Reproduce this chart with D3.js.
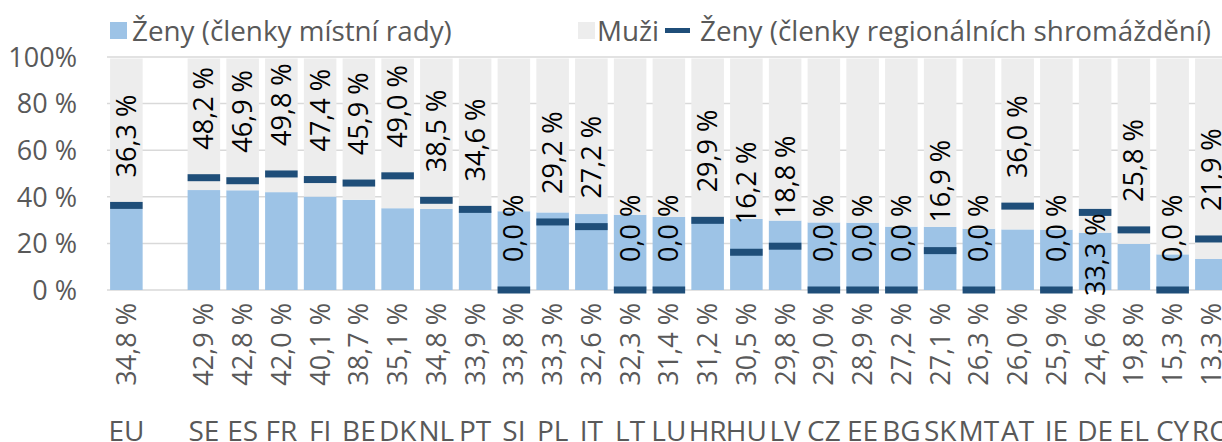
<!DOCTYPE html>
<html>
<head>
<meta charset="utf-8">
<script src="https://cdn.jsdelivr.net/npm/d3@7"></script>
<style>
  body { margin: 0; background: #fff; }
  svg { font-family: 'Open Sans', 'Noto Sans', sans-serif; }
</style>
</head>
<body>
<svg id="chart" width="1222" height="442"></svg>
<script>
// kategorie (prázdná mezera za EU)
const kategorie = ['EU', '', 'SE', 'ES', 'FR', 'FI', 'BE', 'DK', 'NL', 'PT', 'SI', 'PL', 'IT', 'LT', 'LU',
  'HR', 'HU', 'LV', 'CZ', 'EE', 'BG', 'SK', 'MT', 'AT', 'IE', 'DE', 'EL', 'CY', 'RO'];

// ženy – členky místní rady (%)
const zenyMistni = [34.8, null, 42.9, 42.8, 42.0, 40.1, 38.7, 35.1, 34.8, 33.9, 33.8, 33.3, 32.6, 32.3, 31.4,
  31.2, 30.5, 29.8, 29.0, 28.9, 27.2, 27.1, 26.3, 26.0, 25.9, 24.6, 19.8, 15.3, 13.3];

// muži (%)
const muzi = [65.2, null, 57.1, 57.2, 58.0, 59.9, 61.3, 64.9, 65.2, 66.1, 66.2, 66.7, 67.4, 67.7, 68.6,
  68.8, 69.5, 70.2, 71.0, 71.1, 72.8, 72.9, 73.7, 74.0, 74.1, 75.4, 80.2, 84.7, 86.7];

// ženy – členky regionálních shromáždění (%)
const zenyRegion = [36.3, null, 48.2, 46.9, 49.8, 47.4, 45.9, 49.0, 38.5, 34.6, 0.0, 29.2, 27.2, 0.0, 0.0,
  29.9, 16.2, 18.8, 0.0, 0.0, 0.0, 16.9, 0.0, 36.0, 0.0, 33.3, 25.8, 0.0, 21.9];

const yTicks = [0, 20, 40, 60, 80, 100];
const yTickLabels = ['0 %', '20 %', '40 %', '60 %', '80 %', '100%'];

const legendItems = ['Ženy (členky místní rady)', 'Muži', 'Ženy (členky regionálních shromáždění)'];

const barva = { mistni: '#9dc3e6', muzi: '#ededed', region: '#1f4e79', text: '#595959' };
const fmt = v => v.toFixed(1).replace('.', ',') + ' %';

const svg = d3.select('#chart');
const fontSize = 27;

const x = d3.scaleBand()
  .domain(kategorie)
  .range([107, 107 + kategorie.length * 38.75])
  .paddingInner(0.16)
  .paddingOuter(0.08);

const y = d3.scaleLinear().domain([0, 100]).range([290, 57]);

// mřížka
svg.append('g')
  .selectAll('line')
  .data(yTicks)
  .join('line')
  .attr('x1', 107)
  .attr('x2', 1222)
  .attr('y1', d => y(d))
  .attr('y2', d => y(d))
  .attr('stroke', '#d9d9d9')
  .attr('stroke-width', 1.5);

// popisky osy y
svg.append('g')
  .selectAll('text')
  .data(yTicks)
  .join('text')
  .attr('x', 77)
  .attr('y', d => y(d))
  .attr('dy', '0.36em')
  .attr('text-anchor', 'end')
  .attr('font-size', fontSize)
  .attr('fill', barva.text)
  .text((d, i) => yTickLabels[i]);

const rows = kategorie.map((k, i) => ({ k, mistni: zenyMistni[i], muzi: muzi[i], region: zenyRegion[i] }))
  .filter(d => d.mistni !== null);

// ženy místní
svg.append('g')
  .selectAll('rect')
  .data(rows)
  .join('rect')
  .attr('x', d => x(d.k))
  .attr('width', x.bandwidth())
  .attr('y', d => y(d.mistni))
  .attr('height', d => y(0) - y(d.mistni))
  .attr('fill', barva.mistni);

// muži
svg.append('g')
  .selectAll('rect')
  .data(rows)
  .join('rect')
  .attr('x', d => x(d.k))
  .attr('width', x.bandwidth())
  .attr('y', d => y(d.mistni + d.muzi) + 1.5)
  .attr('height', d => y(d.mistni) - y(d.mistni + d.muzi) - 1.5)
  .attr('fill', barva.muzi);

// značky regionálních shromáždění
svg.append('g')
  .selectAll('rect')
  .data(rows)
  .join('rect')
  .attr('x', d => x(d.k))
  .attr('width', x.bandwidth())
  .attr('y', d => y(d.region) - 3.5)
  .attr('height', 7)
  .attr('fill', barva.region);

// popisky místních hodnot pod osou
svg.append('g')
  .selectAll('text')
  .data(rows)
  .join('text')
  .attr('transform', d => `translate(${x(d.k) + x.bandwidth() / 2},303) rotate(-90)`)
  .attr('dy', '0.35em')
  .attr('text-anchor', 'end')
  .attr('font-size', fontSize)
  .attr('fill', barva.text)
  .text(d => fmt(d.mistni));

// popisky regionálních hodnot (DE je v originále posunutý pod značku)
const podZnackou = ['DE'];
svg.append('g')
  .selectAll('text')
  .data(rows)
  .join('text')
  .attr('transform', d => {
    const cx = x(d.k) + x.bandwidth() / 2;
    const yy = podZnackou.includes(d.k) ? y(d.region) + 1 : y(d.region) - 28;
    return `translate(${cx},${yy}) rotate(-90)`;
  })
  .attr('dy', '0.35em')
  .attr('text-anchor', d => podZnackou.includes(d.k) ? 'end' : 'start')
  .attr('font-size', fontSize)
  .attr('fill', '#000')
  .text(d => fmt(d.region));

// kategorie
svg.append('g')
  .selectAll('text')
  .data(kategorie)
  .join('text')
  .attr('x', d => x(d) + x.bandwidth() / 2)
  .attr('y', 441)
  .attr('text-anchor', 'middle')
  .attr('font-size', 28)
  .attr('fill', barva.text)
  .text(d => d);

// legenda
const legend = svg.append('g').attr('font-size', 27.8).attr('fill', barva.text);
legend.append('rect').attr('x', 110).attr('y', 22).attr('width', 17).attr('height', 17).attr('fill', barva.mistni);
legend.append('text').attr('x', 132).attr('y', 41).text(legendItems[0]);
legend.append('rect').attr('x', 578).attr('y', 22).attr('width', 17).attr('height', 17).attr('fill', barva.muzi);
legend.append('text').attr('x', 597).attr('y', 41).text(legendItems[1]);
legend.append('rect').attr('x', 665).attr('y', 28).attr('width', 25).attr('height', 5).attr('fill', barva.region);
legend.append('text').attr('x', 700).attr('y', 41).text(legendItems[2]);
</script>
</body>
</html>
